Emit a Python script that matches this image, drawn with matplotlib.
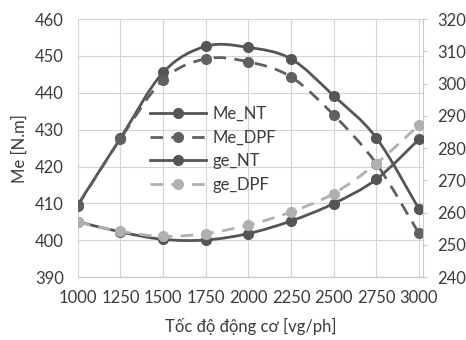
import numpy as np
import matplotlib
matplotlib.use("Agg")
import matplotlib.pyplot as plt
from matplotlib.path import Path
from matplotlib.patches import PathPatch

rpm = [1000, 1250, 1500, 1750, 2000, 2250, 2500, 2750, 3000]
me_nt = [409.6, 427.7, 445.5, 452.6, 452.3, 449.2, 439.2, 427.8, 408.5]
me_dpf = [409.4, 427.5, 443.5, 449.2, 448.4, 444.3, 434.0, 420.8, 401.9]
ge_nt = [257.2, 254.0, 251.7, 251.5, 253.5, 257.4, 262.8, 270.3, 282.7]
ge_dpf = [257.0, 254.2, 252.6, 253.5, 256.1, 260.2, 265.9, 275.2, 287.1]

plt.rcParams['font.family'] = ['Lato', 'DejaVu Sans']

DARK = '#555555'
MID = '#606060'
LIGHT = '#b0b0b0'
TXT = '#3c3c3c'


def smooth_path(x, y):
    # Excel-style smoothed line: Catmull-Rom segments as cubic Bezier curves
    x = np.asarray(x, float)
    y = np.asarray(y, float)
    verts = [(x[0], y[0])]
    codes = [Path.MOVETO]
    n = len(x)
    for i in range(n - 1):
        i0 = max(i - 1, 0)
        i3 = min(i + 2, n - 1)
        c1 = (x[i] + (x[i + 1] - x[i0]) / 6, y[i] + (y[i + 1] - y[i0]) / 6)
        c2 = (x[i + 1] - (x[i3] - x[i]) / 6, y[i + 1] - (y[i3] - y[i]) / 6)
        verts += [c1, c2, (x[i + 1], y[i + 1])]
        codes += [Path.CURVE4] * 3
    return Path(verts, codes)


def draw(ax, x, y, color, ls, label):
    ax.add_patch(PathPatch(smooth_path(x, y), fill=False, edgecolor=color,
                           lw=2, linestyle=ls, zorder=3))
    ax.plot(x, y, 'o', color=color, ms=7, zorder=4)
    # legend proxy
    return ax.plot([], [], color=color, lw=2, linestyle=ls, marker='o',
                   ms=7, label=label)[0]


fig = plt.figure(figsize=(4.66, 3.40), dpi=100)
ax = fig.add_axes([0.167, 0.185, 0.741, 0.759])
ax2 = ax.twinx()

dash = (0, (4.5, 3))
h = []
h.append(draw(ax, rpm, me_nt, DARK, '-', 'Me_NT'))
h.append(draw(ax, rpm, me_dpf, MID, dash, 'Me_DPF'))
h.append(draw(ax2, rpm, ge_nt, DARK, '-', 'ge_NT'))
h.append(draw(ax2, rpm, ge_dpf, LIGHT, dash, 'ge_DPF'))

ax.set_xlim(1000, 3025)
ax.set_ylim(390, 460)
ax2.set_ylim(240, 320)
ax.set_xticks(rpm)
ax.set_yticks(range(390, 461, 10))
ax2.set_yticks(range(240, 321, 10))

ax.grid(True, color='#d4d4d4', lw=0.8)
ax.set_axisbelow(True)
for a in (ax, ax2):
    for s in a.spines.values():
        s.set_color('#c8c8c8')
        s.set_linewidth(0.8)
    a.spines['top'].set_visible(False)
ax.spines['left'].set_visible(False)
ax.spines['right'].set_visible(False)
ax2.spines['left'].set_visible(False)
ax.spines['bottom'].set_color('#b0b0b0')

ax.tick_params(axis='x', length=0, labelsize=12, colors=TXT, pad=9)
ax.tick_params(axis='y', length=0, labelsize=12, colors=TXT, pad=10)
ax2.tick_params(axis='y', length=3, labelsize=12, colors=TXT, pad=7)
ax2.tick_params(axis='y', color='#c8c8c8')

ax.set_ylabel('Me [N.m]', fontsize=12, color=TXT, labelpad=5)
ax.set_xlabel('Tốc độ động cơ [vg/ph]', fontsize=12, color=TXT,
              labelpad=9)

ax2.legend(handles=h, loc='center left', bbox_to_anchor=(0.165, 0.495),
           frameon=False, fontsize=12, labelcolor=TXT,
           handlelength=3.4, handletextpad=0.35, labelspacing=0.45)

fig.savefig('out.png', dpi=100)
